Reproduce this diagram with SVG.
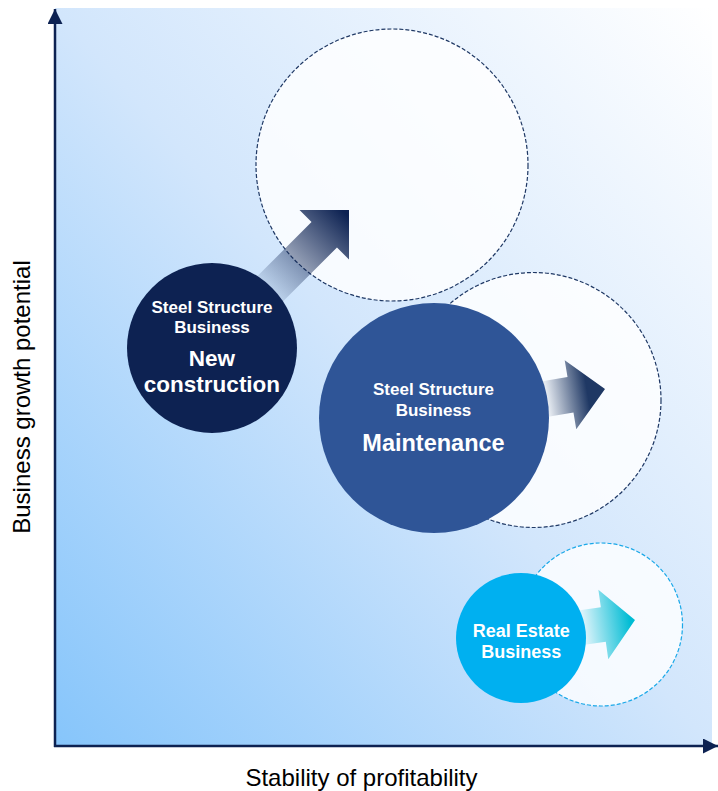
<svg xmlns="http://www.w3.org/2000/svg" width="718" height="791" viewBox="0 0 718 791">
  <defs>
    <linearGradient id="bg" x1="0" y1="1" x2="1" y2="0">
      <stop offset="0" stop-color="#86c5fb"/>
      <stop offset="0.5" stop-color="#d2e6fc"/>
      <stop offset="1" stop-color="#ffffff"/>
    </linearGradient>
    <linearGradient id="gNew" gradientUnits="userSpaceOnUse" x1="-112" y1="0" x2="-5" y2="0">
      <stop offset="0" stop-color="#0d2252" stop-opacity="0.1"/>
      <stop offset="1" stop-color="#0d2252" stop-opacity="1"/>
    </linearGradient>
    <linearGradient id="gMaint" gradientUnits="userSpaceOnUse" x1="-58" y1="0" x2="-8" y2="0">
      <stop offset="0" stop-color="#1f3864" stop-opacity="0.1"/>
      <stop offset="0.8" stop-color="#1f3864" stop-opacity="1"/>
      <stop offset="1" stop-color="#1f3864" stop-opacity="1"/>
    </linearGradient>
    <linearGradient id="gReal" gradientUnits="userSpaceOnUse" x1="-52" y1="0" x2="-5" y2="0">
      <stop offset="0" stop-color="#00bcd4" stop-opacity="0.1"/>
      <stop offset="1" stop-color="#00bcd4" stop-opacity="1"/>
    </linearGradient>
    <marker id="axisHead" markerUnits="userSpaceOnUse" markerWidth="16" markerHeight="16" refX="15" refY="7.5" orient="auto">
      <path d="M0,0 L15,7.5 L0,15 Z" fill="#0d2252"/>
    </marker>
    <style>
      .target { fill: #ffffff; fill-opacity: 0.82; stroke: #1f3864; stroke-width: 1.2; stroke-dasharray: 4 2; }
      .target-light { fill: #ffffff; fill-opacity: 0.8; stroke: #1aa8e8; stroke-width: 1.2; stroke-dasharray: 4 2; }
      .lbl { font-family: "Liberation Sans", Arial, sans-serif; font-weight: bold; fill: #ffffff; text-anchor: middle; }
      .small { font-size: 17px; }
      .axis-lbl { font-family: "Liberation Sans", Arial, sans-serif; font-size: 24px; fill: #000000; text-anchor: middle; }
    </style>
  </defs>

  <!-- plot area -->
  <rect x="55" y="8" width="657" height="738" fill="url(#bg)"/>

  <!-- axes -->
  <g id="axes" stroke="#0d2252" stroke-width="2.5" fill="none">
    <line x1="55" y1="747" x2="55" y2="9" marker-end="url(#axisHead)"/>
    <line x1="54" y1="746" x2="718" y2="746" marker-end="url(#axisHead)"/>
  </g>
  <text class="axis-lbl" x="361.5" y="786">Stability of profitability</text>
  <text class="axis-lbl" transform="translate(30,397) rotate(-90)" font-size="24.5">Business growth potential</text>

  <!-- future positions -->
  <g id="target-new"><circle class="target" cx="392" cy="165" r="136"/></g>
  <g id="target-maint"><circle class="target" cx="533.5" cy="400" r="127.5"/></g>
  <g id="target-real"><circle class="target-light" cx="601" cy="624.5" r="81.5"/></g>

  <!-- growth arrows -->
  <g id="connectors">
    <path d="M0,0 L-35,-35 L-35,-18 L-150,-18 L-150,18 L-35,18 L-35,35 Z" fill="url(#gNew)" transform="translate(349,210) rotate(-45)"/>
    <path d="M0,0 L-35,-35 L-35,-18 L-80,-18 L-80,18 L-35,18 L-35,35 Z" fill="url(#gMaint)" transform="translate(605,389) rotate(-9.5)"/>
    <path d="M0,0 L-32,-35 L-32,-17.5 L-80,-17.5 L-80,17.5 L-32,17.5 L-32,35 Z" fill="url(#gReal)" transform="translate(635,620) rotate(-8.1)"/>
  </g>

  <!-- current businesses -->
  <g id="new-construction">
    <circle cx="212" cy="348" r="85" fill="#0d2252"/>
    <text class="lbl small" x="212" y="313">Steel Structure</text>
    <text class="lbl small" x="212" y="333">Business</text>
    <text class="lbl" x="212" y="366" font-size="22.5">New</text>
    <text class="lbl" x="212" y="392" font-size="22.5">construction</text>
  </g>

  <g id="maintenance">
    <circle cx="434" cy="418" r="115" fill="#2f5597"/>
    <text class="lbl small" x="433.5" y="395">Steel Structure</text>
    <text class="lbl small" x="433.5" y="416">Business</text>
    <text class="lbl" x="433.5" y="450.5" font-size="23.5">Maintenance</text>
  </g>

  <g id="real-estate">
    <circle cx="521" cy="638" r="65" fill="#00b0f0"/>
    <text class="lbl" x="521.3" y="637" font-size="18">Real Estate</text>
    <text class="lbl" x="521.3" y="658" font-size="18">Business</text>
  </g>
</svg>
